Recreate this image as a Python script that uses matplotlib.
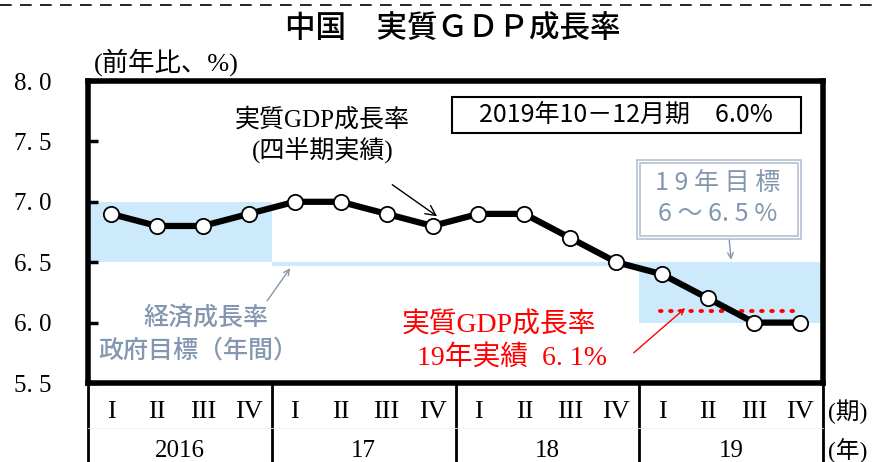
import matplotlib
matplotlib.use("Agg")
import matplotlib.pyplot as plt
from matplotlib.lines import Line2D
from matplotlib.patches import Rectangle
import matplotlib.transforms as mtransforms
import numpy as np

plt.rcParams['font.family'] = ['Noto Sans CJK JP', 'DejaVu Sans']

# data
years = ['2016', '17', '18', '19']
quarters = ['I', 'II', 'III', 'IV']
gdp_growth = [6.9, 6.8, 6.8, 6.9,
              7.0, 7.0, 6.9, 6.8,
              6.9, 6.9, 6.7, 6.5,
              6.4, 6.2, 6.0, 6.0]
target_low = [6.5, 6.47, 6.47, 6.0]
target_high = [7.0, 6.5, 6.5, 6.5]
actual_2019 = 6.1

SERIF_JP = ['Liberation Serif', 'Noto Sans CJK JP']
GRAYBLUE = '#8497b0'
BAND = '#cceafb'

W, H = 872, 462


def fx(px):
    return px / W


def fy(py):
    return 1 - py / H


fig = plt.figure(figsize=(8.72, 4.62), dpi=100)
ax = fig.add_axes([fx(88), 79 / H, 735 / W, 302 / H])

n = len(gdp_growth)
x = np.arange(n)
ax.set_xlim(-0.5, n - 0.5)
ax.set_ylim(5.5, 8.0)

# government target bands (per year)
for i, (lo, hi) in enumerate(zip(target_low, target_high)):
    ax.add_patch(Rectangle((i * 4 - 0.5, lo), 4, hi - lo, facecolor=BAND,
                           edgecolor='none', zorder=1))

# 2019 actual
ax.plot([11.95, 14.9], [actual_2019, actual_2019], color='red', lw=2.8,
        ls=(0, (0.4, 2.2)), dash_capstyle='round', zorder=3)

ax.plot(x, gdp_growth, color='black', lw=4.5, marker='o', ms=11,
        mfc='white', mec='black', mew=1.3, zorder=4)

for s in ax.spines.values():
    s.set_linewidth(4)

yt = np.arange(5.5, 8.01, 0.5)
ax.set_yticks(yt)
ax.set_yticklabels(['%.0f. %d' % (np.floor(v), round(v * 10) % 10) for v in yt],
                   family='Liberation Serif', fontsize=18)
ax.tick_params(axis='y', direction='in', length=7, width=2.5, pad=26)
ax.set_xticks([])

# table under the plot
tr = mtransforms.blended_transform_factory(ax.transData, ax.transAxes)
for b in range(len(years) + 1):
    ax.add_line(Line2D([b * 4 - 0.5] * 2, [0, -0.27], transform=tr, color='black',
                       lw=2, clip_on=False))
ax.add_line(Line2D([-0.5, n - 0.5], [-0.15, -0.15], transform=tr, color='#f0f0f0',
                   lw=0.6, clip_on=False))
for i in range(n):
    ax.text(x[i], -0.095, quarters[i % 4], transform=tr, ha='center', va='center',
            family='Liberation Serif', fontsize=19, clip_on=False)
for i, yr in enumerate(years):
    ax.text(i * 4 + 1.5, -0.225, yr, transform=tr, ha='center', va='center',
            family='Liberation Serif', fontsize=18, clip_on=False)
ax.text(n - 0.4, -0.095, '(期)', transform=tr, ha='left', va='center',
        family=SERIF_JP, fontsize=17, clip_on=False)
ax.text(n - 0.4, -0.225, '(年)', transform=tr, ha='left', va='center',
        family=SERIF_JP, fontsize=17, clip_on=False)

# titles
fig.add_artist(Line2D([0, 1], [fy(5)] * 2, color='black', lw=1.2, ls=(0, (7, 5))))
fig.text(fx(453), fy(29), '中国　実質ＧＤＰ成長率', ha='center', va='center',
         fontsize=22, fontweight='medium')
fig.text(fx(94), fy(62), '(前年比、%)', ha='left', va='center',
         family=SERIF_JP, fontsize=19)

# info box
fig.add_artist(Rectangle((fx(452), fy(133)), 349 / W, 36 / H, fill=False,
                         ec='black', lw=1.5))
fig.text(fx(626), fy(115), '2019年10－12月期　6.0%', ha='center', va='center',
         fontsize=18)

# 2019 target box (double border)
fig.add_artist(Rectangle((fx(637), fy(239)), 164 / W, 79 / H, fc='white',
                         ec='#b4c0d2', lw=1.2, zorder=5))
fig.add_artist(Rectangle((fx(640), fy(236)), 158 / W, 73 / H, fill=False,
                         ec='#b4c0d2', lw=1.2, zorder=5))
fig.text(fx(718), fy(183), '1 9 年 目 標', ha='center', va='center',
         color=GRAYBLUE, fontsize=18, zorder=6)
fig.text(fx(718), fy(214), '6 ～ 6. 5 %', ha='center', va='center',
         color=GRAYBLUE, fontsize=18, zorder=6)
ax.annotate('', xy=(13.5, 6.52), xytext=(13.43, 6.8),
            arrowprops=dict(arrowstyle='->', color=GRAYBLUE, lw=1, shrinkA=0, shrinkB=0))

# annotations
ax.annotate('実質GDP成長率\n(四半期実績)', xy=(7.1, 6.88), xytext=(4.6, 7.55),
            ha='center', va='center', family=SERIF_JP, fontsize=18, linespacing=1.2,
            arrowprops=dict(arrowstyle='->', color='black', lw=1,
                            shrinkA=24, shrinkB=0))
ax.annotate('', xy=(3.9, 6.45), xytext=(3.4, 6.18),
            arrowprops=dict(arrowstyle='->', color=GRAYBLUE, lw=1, shrinkA=0, shrinkB=0))
ax.text(2.07, 6.04, '経済成長率', ha='center', va='center', color=GRAYBLUE,
        fontsize=18, fontweight='medium')
ax.text(1.9, 5.77, '政府目標（年間）', ha='center', va='center', color=GRAYBLUE,
        fontsize=18, fontweight='medium')
ax.annotate('', xy=(12.5, 6.12), xytext=(11.38, 5.75),
            arrowprops=dict(arrowstyle='->', color='red', lw=1, shrinkA=0, shrinkB=0))
ax.text(8.43, 5.98, '実質GDP成長率', ha='center', va='center', color='red',
        family=SERIF_JP, fontsize=20)
ax.text(8.74, 5.71, '19年実績  6. 1%', ha='center', va='center', color='red',
        family=SERIF_JP, fontsize=20)

fig.savefig('out.png', dpi=100)
